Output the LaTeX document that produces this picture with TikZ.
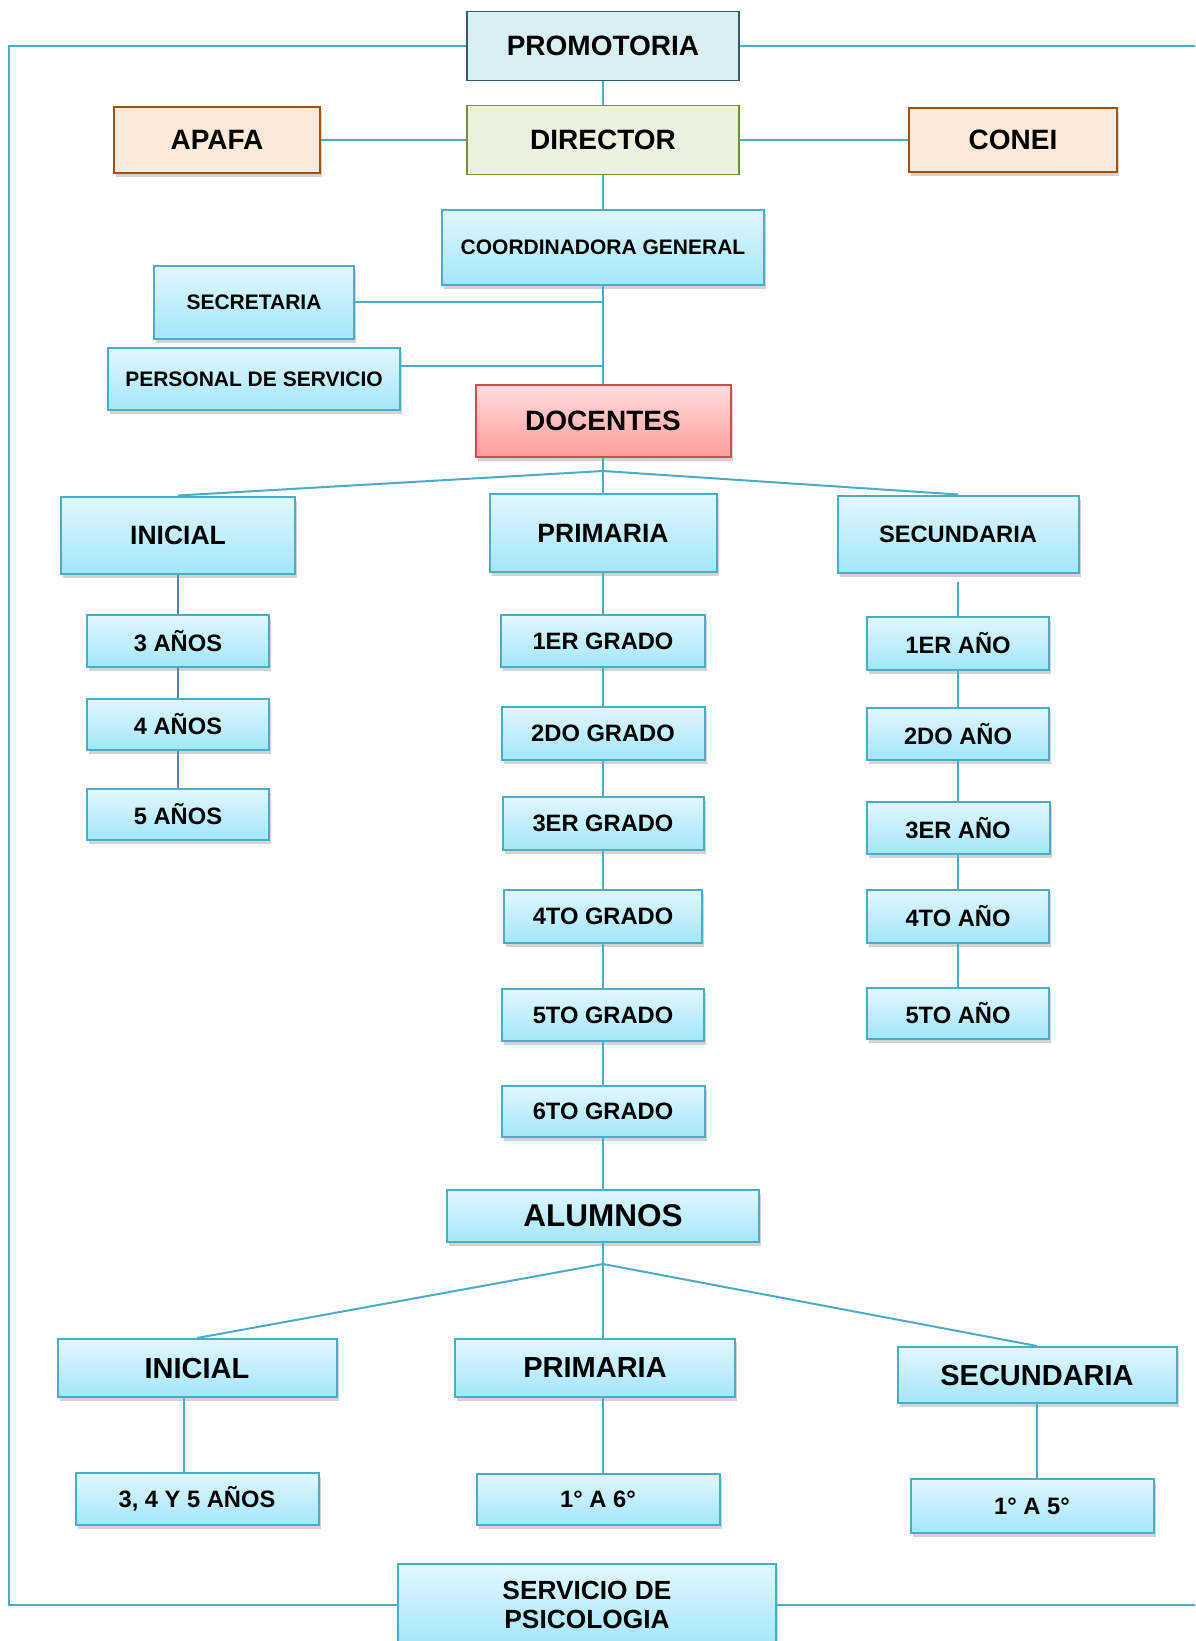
\documentclass[tikz,border=0pt]{standalone}
\usepackage{fontspec}
\setmainfont{Liberation Sans}
\usetikzlibrary{shadows}
\definecolor{linea}{HTML}{4BACC6}
\definecolor{lineaosc}{HTML}{4F81BD}
\definecolor{azulsup}{HTML}{E2F7FD}
\definecolor{azulinf}{HTML}{A3E6FB}
\definecolor{promfondo}{HTML}{DBEEF3}
\definecolor{promborde}{HTML}{2B5F6E}
\definecolor{dirfondo}{HTML}{EBF1DE}
\definecolor{dirborde}{HTML}{76923C}
\definecolor{naranjafondo}{HTML}{FDE9D9}
\definecolor{naranjaborde}{HTML}{A0500F}
\definecolor{rojosup}{HTML}{FFDCDC}
\definecolor{rojoinf}{HTML}{FF9C9C}
\definecolor{rojoborde}{HTML}{C9504D}

\begin{document}
\begin{tikzpicture}[
        x=1pt, y=-1pt,
        sombra/.style={drop shadow={shadow xshift=2pt, shadow yshift=-4pt, opacity=0.35}},
        caja/.style={rectangle, draw=linea, line width=2pt, top color=azulsup,
                     bottom color=azulinf, inner sep=0pt, align=center, sombra},
        promo/.style={rectangle, draw=promborde, line width=1.5pt, fill=promfondo, inner sep=0pt},
        direc/.style={rectangle, draw=dirborde, line width=1.5pt, fill=dirfondo, inner sep=0pt},
        padres/.style={rectangle, draw=naranjaborde, line width=2pt, fill=naranjafondo, inner sep=0pt, sombra},
        docente/.style={rectangle, draw=rojoborde, line width=2pt, top color=rojosup,
                        bottom color=rojoinf, inner sep=0pt, sombra},
        e/.style={draw=linea, line width=2pt},
        eosc/.style={draw=lineaosc, line width=2pt},
        tgrande/.style={font=\bfseries\fontsize{28}{30}\selectfont},
        tmedio/.style={font=\bfseries\fontsize{21}{24}\selectfont},
        tnivel/.style={font=\bfseries\fontsize{26.5}{28}\selectfont},
        tgrado/.style={font=\bfseries\fontsize{23.7}{26}\selectfont},
        talumno/.style={font=\bfseries\fontsize{31.5}{34}\selectfont},
        tnivelb/.style={font=\bfseries\fontsize{29}{31}\selectfont},
        tpsico/.style={font=\bfseries\fontsize{26.3}{29}\selectfont}
    ]
        \useasboundingbox (0,0) rectangle (1195,1641);

        % dirección
        \node[promo, tgrande, minimum width=272pt, minimum height=69pt] (promotoria) at (603,46) {PROMOTORIA};
        \node[direc, tgrande, minimum width=272pt, minimum height=69pt] (director) at (603,140) {DIRECTOR};
        \node[padres, tgrande, minimum width=206pt, minimum height=66pt] (apafa) at (217,140) {APAFA};
        \node[padres, tgrande, minimum width=208pt, minimum height=64pt] (conei) at (1013,140) {CONEI};

        % coordinación y apoyo
        \node[caja, tmedio, minimum width=322pt, minimum height=75pt] (coordinadora) at (603,247) {COORDINADORA GENERAL};
        \node[caja, tmedio, minimum width=200pt, minimum height=73pt] (secretaria) at (254,302) {SECRETARIA};
        \node[caja, tmedio, minimum width=292pt, minimum height=62pt] (personal) at (254,379) {PERSONAL DE SERVICIO};
        \node[docente, tgrande, minimum width=255pt, minimum height=72pt] (docentes) at (603,421) {DOCENTES};

        % niveles (docentes)
        \node[caja, tnivel, minimum width=234pt, minimum height=77pt] (inicial) at (178,535) {INICIAL};
        \node[caja, tnivel, minimum width=227pt, minimum height=78pt] (primaria) at (603,533) {PRIMARIA};
        \node[caja, tgrado, minimum width=241pt, minimum height=77pt] (secundaria) at (958,534) {SECUNDARIA};

        % inicial
        \node[caja, tgrado, minimum width=182pt, minimum height=52pt] (anos3) at (178,641) {3 AÑOS};
        \node[caja, tgrado, minimum width=182pt, minimum height=51pt] (anos4) at (178,724) {4 AÑOS};
        \node[caja, tgrado, minimum width=182pt, minimum height=51pt] (anos5) at (178,814) {5 AÑOS};

        % primaria
        \node[caja, tgrado, minimum width=204pt, minimum height=52pt] (grado1) at (603,641) {1ER GRADO};
        \node[caja, tgrado, minimum width=203pt, minimum height=53pt] (grado2) at (603,733) {2DO GRADO};
        \node[caja, tgrado, minimum width=201pt, minimum height=53pt] (grado3) at (603,823) {3ER GRADO};
        \node[caja, tgrado, minimum width=198pt, minimum height=53pt] (grado4) at (603,916) {4TO GRADO};
        \node[caja, tgrado, minimum width=202pt, minimum height=52pt] (grado5) at (603,1015) {5TO GRADO};
        \node[caja, tgrado, minimum width=203pt, minimum height=51pt] (grado6) at (603,1111) {6TO GRADO};

        % secundaria
        \node[caja, tgrado, minimum width=182pt, minimum height=53pt] (ano1) at (958,643) {1ER AÑO};
        \node[caja, tgrado, minimum width=182pt, minimum height=52pt] (ano2) at (958,734) {2DO AÑO};
        \node[caja, tgrado, minimum width=183pt, minimum height=52pt] (ano3) at (958,828) {3ER AÑO};
        \node[caja, tgrado, minimum width=182pt, minimum height=53pt] (ano4) at (958,916) {4TO AÑO};
        \node[caja, tgrado, minimum width=182pt, minimum height=51pt] (ano5) at (958,1013) {5TO AÑO};

        % alumnos
        \node[caja, talumno, minimum width=312pt, minimum height=52pt] (alumnos) at (603,1216) {ALUMNOS};
        \node[caja, tnivelb, minimum width=279pt, minimum height=58pt] (inicialb) at (197,1368) {INICIAL};
        \node[caja, tnivelb, minimum width=280pt, minimum height=58pt] (primariab) at (595,1368) {PRIMARIA};
        \node[caja, tnivelb, minimum width=279pt, minimum height=56pt] (secundariab) at (1037,1375) {SECUNDARIA};
        \node[caja, tgrado, minimum width=243pt, minimum height=52pt] (edades) at (197,1499) {3, 4 Y 5 AÑOS};
        \node[caja, tgrado, minimum width=243pt, minimum height=51pt] (primseis) at (598,1499) {1° A 6°};
        \node[caja, tgrado, minimum width=243pt, minimum height=54pt] (seccinco) at (1032,1506) {1° A 5°};

        % psicología
        \node[caja, tpsico, minimum width=378pt, minimum height=82pt] (psicologia) at (587,1605) {SERVICIO DE\\PSICOLOGIA};

        % puntos de unión
        \coordinate (jd) at (603,471);
        \coordinate (ja) at (603,1264);
        \coordinate (borde) at (9,800);
        \coordinate (derecha) at (1195,800);

        % línea vertical principal
        \draw[e] (promotoria.south) -- (director.north);
        \draw[e] (director.south) -- (coordinadora.north);
        \draw[e] (coordinadora.south) -- (docentes.north);
        \draw[e] (apafa.east) -- (director.west);
        \draw[e] (director.east) -- (conei.west);
        \draw[e] (secretaria.east) -- (secretaria.east -| coordinadora.south);
        \draw[e] (personal.5) -- (personal.5 -| coordinadora.south);

        % docentes a niveles
        \draw[e] (docentes.south) -- (jd);
        \draw[e] (jd) -- (inicial.north);
        \draw[e] (jd) -- (primaria.north);
        \draw[e] (jd) -- (secundaria.north);

        % inicial
        \draw[eosc] (inicial.south) -- (anos3.north);
        \draw[eosc] (anos3.south) -- (anos4.north);
        \draw[eosc] (anos4.south) -- (anos5.north);

        % primaria
        \draw[e] (primaria.south) -- (grado1.north);
        \draw[e] (grado1.south) -- (grado2.north);
        \draw[e] (grado2.south) -- (grado3.north);
        \draw[e] (grado3.south) -- (grado4.north);
        \draw[e] (grado4.south) -- (grado5.north);
        \draw[e] (grado5.south) -- (grado6.north);
        \draw[e] (grado6.south) -- (alumnos.north);

        % secundaria
        \draw[e] ([yshift=-8pt]secundaria.south) -- (ano1.north);
        \draw[e] (ano1.south) -- (ano2.north);
        \draw[e] (ano2.south) -- (ano3.north);
        \draw[e] (ano3.south) -- (ano4.north);
        \draw[e] (ano4.south) -- (ano5.north);

        % alumnos a niveles
        \draw[e] (alumnos.south) -- (ja);
        \draw[e] (ja) -- (inicialb.north);
        \draw[e] (ja) -- (ja |- primariab.north);
        \draw[e] (ja) -- (secundariab.north);
        \draw[e] ([xshift=-13pt]inicialb.south) -- ([xshift=-13pt]inicialb.south |- edades.north);
        \draw[e] (ja |- primariab.south) -- (ja |- primseis.north);
        \draw[e] (secundariab.south) -- (secundariab.south |- seccinco.north);

        % marco exterior
        \draw[e] (promotoria.west) -| (borde) |- (psicologia.west);
        \draw[e] (promotoria.east) -- (promotoria.east -| derecha);
        \draw[e] (psicologia.east) -- (psicologia.east -| derecha);

    \end{tikzpicture}
\end{document}
